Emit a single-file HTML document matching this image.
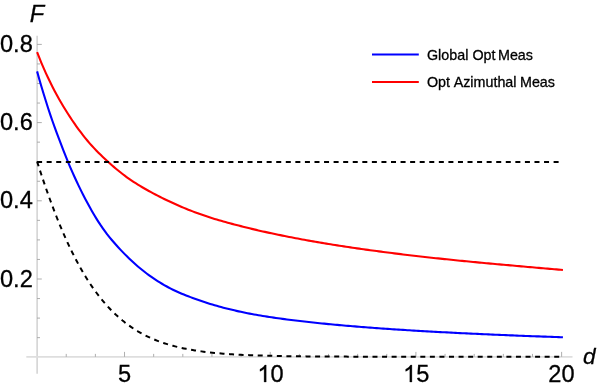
<!DOCTYPE html>
<html><head><meta charset="utf-8"><title>plot</title>
<style>
html,body{margin:0;padding:0;background:#fff;}
svg{display:block;will-change:transform;}
text{font-family:"Liberation Sans",sans-serif;fill:#000;stroke:#000;stroke-width:0.3px;}
</style></head><body>
<svg width="598" height="390" viewBox="0 0 598 390">
<rect width="598" height="390" fill="#fff"/>
<g stroke="#c6c6c6" stroke-width="1.2" fill="none">
<line x1="37.10" y1="35.8" x2="37.10" y2="373.8"/>
</g>
<g stroke="#dedede" stroke-width="1.7" fill="none">
<line x1="26.3" y1="356.80" x2="572.5" y2="356.80"/>
</g>
<g stroke="#999999" stroke-width="0.8" fill="none">
<line x1="37.10" y1="337.65" x2="40.00" y2="337.65"/><line x1="37.10" y1="318.10" x2="40.00" y2="318.10"/><line x1="37.10" y1="298.55" x2="40.00" y2="298.55"/><line x1="37.10" y1="279.00" x2="41.80" y2="279.00"/><line x1="37.10" y1="259.45" x2="40.00" y2="259.45"/><line x1="37.10" y1="239.90" x2="40.00" y2="239.90"/><line x1="37.10" y1="220.35" x2="40.00" y2="220.35"/><line x1="37.10" y1="200.80" x2="41.80" y2="200.80"/><line x1="37.10" y1="181.25" x2="40.00" y2="181.25"/><line x1="37.10" y1="161.70" x2="40.00" y2="161.70"/><line x1="37.10" y1="142.15" x2="40.00" y2="142.15"/><line x1="37.10" y1="122.60" x2="41.80" y2="122.60"/><line x1="37.10" y1="103.05" x2="40.00" y2="103.05"/><line x1="37.10" y1="83.50" x2="40.00" y2="83.50"/><line x1="37.10" y1="63.95" x2="40.00" y2="63.95"/><line x1="37.10" y1="44.40" x2="41.80" y2="44.40"/><line x1="66.24" y1="356.80" x2="66.24" y2="353.90"/><line x1="95.38" y1="356.80" x2="95.38" y2="353.90"/><line x1="124.52" y1="356.80" x2="124.52" y2="351.90"/><line x1="153.66" y1="356.80" x2="153.66" y2="353.90"/><line x1="182.80" y1="356.80" x2="182.80" y2="353.90"/><line x1="211.94" y1="356.80" x2="211.94" y2="353.90"/><line x1="241.08" y1="356.80" x2="241.08" y2="353.90"/><line x1="270.22" y1="356.80" x2="270.22" y2="351.90"/><line x1="299.36" y1="356.80" x2="299.36" y2="353.90"/><line x1="328.50" y1="356.80" x2="328.50" y2="353.90"/><line x1="357.64" y1="356.80" x2="357.64" y2="353.90"/><line x1="386.78" y1="356.80" x2="386.78" y2="353.90"/><line x1="415.92" y1="356.80" x2="415.92" y2="351.90"/><line x1="445.06" y1="356.80" x2="445.06" y2="353.90"/><line x1="474.20" y1="356.80" x2="474.20" y2="353.90"/><line x1="503.34" y1="356.80" x2="503.34" y2="353.90"/><line x1="532.48" y1="356.80" x2="532.48" y2="353.90"/><line x1="561.62" y1="356.80" x2="561.62" y2="351.90"/>
</g>
<path d="M37.10,71.39 L39.29,79.24 L41.48,86.72 L43.67,93.94 L45.86,101.03 L48.05,107.96 L50.25,114.61 L52.44,121.00 L54.63,127.17 L56.82,133.12 L59.01,138.89 L61.20,144.63 L63.39,150.31 L65.58,155.90 L67.77,161.33 L69.96,166.55 L72.16,171.59 L74.35,176.49 L76.54,181.26 L78.73,185.90 L80.92,190.40 L83.11,194.77 L85.30,199.01 L87.49,203.11 L89.68,207.09 L91.87,210.96 L94.07,214.72 L96.26,218.35 L98.45,221.84 L100.64,225.18 L102.83,228.35 L105.02,231.39 L107.21,234.32 L109.40,237.09 L111.59,239.74 L113.78,242.29 L115.97,244.79 L118.17,247.23 L120.36,249.59 L122.55,251.88 L124.74,254.13 L126.93,256.33 L129.12,258.47 L131.31,260.55 L133.50,262.57 L135.69,264.53 L137.88,266.43 L140.08,268.27 L142.27,270.05 L144.46,271.79 L146.65,273.46 L148.84,275.09 L151.03,276.66 L153.22,278.18 L155.41,279.65 L157.60,281.07 L159.79,282.45 L161.98,283.77 L164.18,285.05 L166.37,286.28 L168.56,287.47 L170.75,288.61 L172.94,289.71 L175.13,290.76 L177.32,291.76 L179.51,292.73 L181.70,293.66 L183.89,294.56 L186.09,295.44 L188.28,296.29 L190.47,297.12 L192.66,297.94 L194.85,298.75 L197.04,299.54 L199.23,300.31 L201.42,301.07 L203.61,301.80 L205.80,302.52 L208.00,303.22 L210.19,303.90 L212.38,304.57 L214.57,305.22 L216.76,305.85 L218.95,306.46 L221.14,307.06 L223.33,307.64 L225.52,308.20 L227.71,308.75 L229.90,309.30 L232.10,309.83 L234.29,310.35 L236.48,310.86 L238.67,311.36 L240.86,311.84 L243.05,312.32 L245.24,312.78 L247.43,313.22 L249.62,313.65 L251.81,314.06 L254.01,314.46 L256.20,314.84 L258.39,315.22 L260.58,315.58 L262.77,315.94 L264.96,316.29 L267.15,316.63 L269.34,316.96 L271.53,317.29 L273.72,317.61 L275.92,317.93 L278.11,318.24 L280.30,318.54 L282.49,318.84 L284.68,319.14 L286.87,319.42 L289.06,319.71 L291.25,319.98 L293.44,320.26 L295.63,320.53 L297.82,320.79 L300.02,321.05 L302.21,321.31 L304.40,321.56 L306.59,321.80 L308.78,322.05 L310.97,322.29 L313.16,322.52 L315.35,322.76 L317.54,322.98 L319.73,323.21 L321.93,323.43 L324.12,323.65 L326.31,323.87 L328.50,324.08 L330.69,324.29 L332.88,324.50 L335.07,324.70 L337.26,324.90 L339.45,325.10 L341.64,325.30 L343.83,325.49 L346.03,325.68 L348.22,325.87 L350.41,326.05 L352.60,326.24 L354.79,326.42 L356.98,326.60 L359.17,326.78 L361.36,326.95 L363.55,327.12 L365.74,327.29 L367.94,327.46 L370.13,327.63 L372.32,327.79 L374.51,327.95 L376.70,328.12 L378.89,328.27 L381.08,328.43 L383.27,328.59 L385.46,328.74 L387.65,328.89 L389.85,329.04 L392.04,329.19 L394.23,329.34 L396.42,329.48 L398.61,329.62 L400.80,329.77 L402.99,329.91 L405.18,330.04 L407.37,330.18 L409.56,330.32 L411.75,330.45 L413.95,330.58 L416.14,330.72 L418.33,330.85 L420.52,330.98 L422.71,331.10 L424.90,331.23 L427.09,331.35 L429.28,331.48 L431.47,331.60 L433.66,331.72 L435.86,331.84 L438.05,331.96 L440.24,332.08 L442.43,332.19 L444.62,332.31 L446.81,332.42 L449.00,332.54 L451.19,332.65 L453.38,332.76 L455.57,332.87 L457.77,332.98 L459.96,333.09 L462.15,333.20 L464.34,333.30 L466.53,333.41 L468.72,333.51 L470.91,333.62 L473.10,333.72 L475.29,333.82 L477.48,333.92 L479.67,334.02 L481.87,334.12 L484.06,334.22 L486.25,334.31 L488.44,334.41 L490.63,334.51 L492.82,334.60 L495.01,334.70 L497.20,334.79 L499.39,334.88 L501.58,334.97 L503.78,335.06 L505.97,335.15 L508.16,335.24 L510.35,335.33 L512.54,335.42 L514.73,335.51 L516.92,335.59 L519.11,335.68 L521.30,335.76 L523.49,335.85 L525.68,335.93 L527.88,336.02 L530.07,336.10 L532.26,336.18 L534.45,336.26 L536.64,336.34 L538.83,336.42 L541.02,336.50 L543.21,336.58 L545.40,336.66 L547.59,336.73 L549.79,336.81 L551.98,336.89 L554.17,336.96 L556.36,337.04 L558.55,337.11 L560.74,337.19 L562.93,337.26" fill="none" stroke="#0000ff" stroke-width="2.1" stroke-linejoin="round"/>
<path d="M37.10,52.11 L39.29,57.71 L41.48,63.05 L43.67,68.16 L45.86,73.09 L48.05,77.80 L50.25,82.33 L52.44,86.68 L54.63,90.90 L56.82,94.98 L59.01,98.94 L61.20,102.77 L63.39,106.47 L65.58,110.05 L67.77,113.54 L69.96,116.93 L72.16,120.24 L74.35,123.44 L76.54,126.55 L78.73,129.55 L80.92,132.47 L83.11,135.31 L85.30,138.07 L87.49,140.73 L89.68,143.31 L91.87,145.78 L94.07,148.16 L96.26,150.46 L98.45,152.70 L100.64,154.87 L102.83,156.99 L105.02,159.05 L107.21,161.06 L109.40,163.03 L111.59,164.96 L113.78,166.85 L115.97,168.71 L118.17,170.53 L120.36,172.30 L122.55,174.03 L124.74,175.70 L126.93,177.31 L129.12,178.87 L131.31,180.37 L133.50,181.82 L135.69,183.23 L137.88,184.60 L140.08,185.94 L142.27,187.26 L144.46,188.53 L146.65,189.78 L148.84,190.99 L151.03,192.17 L153.22,193.34 L155.41,194.49 L157.60,195.63 L159.79,196.75 L161.98,197.86 L164.18,198.94 L166.37,200.00 L168.56,201.04 L170.75,202.06 L172.94,203.06 L175.13,204.06 L177.32,205.04 L179.51,206.01 L181.70,206.96 L183.89,207.89 L186.09,208.79 L188.28,209.67 L190.47,210.53 L192.66,211.37 L194.85,212.19 L197.04,212.99 L199.23,213.78 L201.42,214.55 L203.61,215.31 L205.80,216.05 L208.00,216.78 L210.19,217.49 L212.38,218.20 L214.57,218.89 L216.76,219.56 L218.95,220.22 L221.14,220.86 L223.33,221.49 L225.52,222.10 L227.71,222.70 L229.90,223.29 L232.10,223.87 L234.29,224.45 L236.48,225.02 L238.67,225.58 L240.86,226.14 L243.05,226.69 L245.24,227.24 L247.43,227.79 L249.62,228.33 L251.81,228.86 L254.01,229.38 L256.20,229.89 L258.39,230.40 L260.58,230.90 L262.77,231.40 L264.96,231.89 L267.15,232.37 L269.34,232.85 L271.53,233.32 L273.72,233.78 L275.92,234.25 L278.11,234.70 L280.30,235.15 L282.49,235.60 L284.68,236.04 L286.87,236.47 L289.06,236.91 L291.25,237.33 L293.44,237.76 L295.63,238.18 L297.82,238.59 L300.02,239.00 L302.21,239.41 L304.40,239.82 L306.59,240.21 L308.78,240.61 L310.97,241.00 L313.16,241.39 L315.35,241.77 L317.54,242.15 L319.73,242.52 L321.93,242.89 L324.12,243.26 L326.31,243.62 L328.50,243.98 L330.69,244.33 L332.88,244.69 L335.07,245.04 L337.26,245.38 L339.45,245.72 L341.64,246.06 L343.83,246.40 L346.03,246.73 L348.22,247.06 L350.41,247.39 L352.60,247.71 L354.79,248.03 L356.98,248.35 L359.17,248.66 L361.36,248.97 L363.55,249.28 L365.74,249.59 L367.94,249.89 L370.13,250.19 L372.32,250.49 L374.51,250.79 L376.70,251.08 L378.89,251.37 L381.08,251.66 L383.27,251.94 L385.46,252.23 L387.65,252.51 L389.85,252.79 L392.04,253.07 L394.23,253.34 L396.42,253.61 L398.61,253.88 L400.80,254.15 L402.99,254.42 L405.18,254.68 L407.37,254.94 L409.56,255.20 L411.75,255.46 L413.95,255.71 L416.14,255.97 L418.33,256.22 L420.52,256.47 L422.71,256.72 L424.90,256.97 L427.09,257.21 L429.28,257.45 L431.47,257.69 L433.66,257.93 L435.86,258.17 L438.05,258.41 L440.24,258.64 L442.43,258.87 L444.62,259.10 L446.81,259.33 L449.00,259.56 L451.19,259.78 L453.38,260.01 L455.57,260.23 L457.77,260.45 L459.96,260.67 L462.15,260.89 L464.34,261.11 L466.53,261.32 L468.72,261.54 L470.91,261.75 L473.10,261.96 L475.29,262.17 L477.48,262.38 L479.67,262.58 L481.87,262.79 L484.06,262.99 L486.25,263.20 L488.44,263.40 L490.63,263.60 L492.82,263.80 L495.01,263.99 L497.20,264.19 L499.39,264.39 L501.58,264.58 L503.78,264.78 L505.97,264.97 L508.16,265.17 L510.35,265.36 L512.54,265.56 L514.73,265.75 L516.92,265.95 L519.11,266.14 L521.30,266.34 L523.49,266.54 L525.68,266.73 L527.88,266.93 L530.07,267.12 L532.26,267.32 L534.45,267.51 L536.64,267.70 L538.83,267.90 L541.02,268.09 L543.21,268.28 L545.40,268.47 L547.59,268.66 L549.79,268.85 L551.98,269.04 L554.17,269.22 L556.36,269.41 L558.55,269.59 L560.74,269.78 L562.93,269.96" fill="none" stroke="#ff0000" stroke-width="2.1" stroke-linejoin="round"/>
<path d="M37.10,161.90 L562.93,161.90" fill="none" stroke="#000" stroke-width="2.0" stroke-dasharray="5.0 4.565"/>
<path d="M37.10,161.50 L39.29,168.36 L41.48,175.06 L43.67,181.60 L45.86,187.99 L48.05,194.21 L50.25,200.27 L52.44,206.18 L54.63,211.92 L56.82,217.50 L59.01,222.92 L61.20,228.19 L63.39,233.30 L65.58,238.25 L67.77,243.05 L69.96,247.69 L72.16,252.19 L74.35,256.54 L76.54,260.74 L78.73,264.81 L80.92,268.73 L83.11,272.51 L85.30,276.16 L87.49,279.68 L89.68,283.07 L91.87,286.34 L94.07,289.48 L96.26,292.50 L98.45,295.41 L100.64,298.20 L102.83,300.88 L105.02,303.46 L107.21,305.93 L109.40,308.30 L111.59,310.57 L113.78,312.75 L115.97,314.84 L118.17,316.84 L120.36,318.75 L122.55,320.59 L124.74,322.34 L126.93,324.01 L129.12,325.61 L131.31,327.14 L133.50,328.60 L135.69,330.00 L137.88,331.33 L140.08,332.60 L142.27,333.81 L144.46,334.97 L146.65,336.07 L148.84,337.12 L151.03,338.12 L153.22,339.07 L155.41,339.98 L157.60,340.84 L159.79,341.66 L161.98,342.44 L164.18,343.18 L166.37,343.89 L168.56,344.56 L170.75,345.19 L172.94,345.80 L175.13,346.38 L177.32,346.92 L179.51,347.44 L181.70,347.93 L183.89,348.40 L186.09,348.84 L188.28,349.26 L190.47,349.66 L192.66,350.04 L194.85,350.40 L197.04,350.74 L199.23,351.06 L201.42,351.37 L203.61,351.66 L205.80,351.93 L208.00,352.19 L210.19,352.44 L212.38,352.67 L214.57,352.89 L216.76,353.10 L218.95,353.29 L221.14,353.48 L223.33,353.66 L225.52,353.83 L227.71,353.99 L229.90,354.14 L232.10,354.28 L234.29,354.41 L236.48,354.54 L238.67,354.66 L240.86,354.77 L243.05,354.88 L245.24,354.98 L247.43,355.08 L249.62,355.17 L251.81,355.26 L254.01,355.34 L256.20,355.41 L258.39,355.49 L260.58,355.56 L262.77,355.62 L264.96,355.68 L267.15,355.74 L269.34,355.80 L271.53,355.85 L273.72,355.90 L275.92,355.94 L278.11,355.99 L280.30,356.03 L282.49,356.07 L284.68,356.11 L286.87,356.14 L289.06,356.17 L291.25,356.21 L293.44,356.24 L295.63,356.26 L297.82,356.29 L300.02,356.32 L302.21,356.34 L304.40,356.36 L306.59,356.38 L308.78,356.40 L310.97,356.42 L313.16,356.44 L315.35,356.46 L317.54,356.48 L319.73,356.49 L321.93,356.51 L324.12,356.52 L326.31,356.53 L328.50,356.55 L330.69,356.56 L332.88,356.57 L335.07,356.58 L337.26,356.59 L339.45,356.60 L341.64,356.61 L343.83,356.62 L346.03,356.62 L348.22,356.63 L350.41,356.64 L352.60,356.65 L354.79,356.65 L356.98,356.66 L359.17,356.67 L361.36,356.67 L363.55,356.68 L365.74,356.68 L367.94,356.69 L370.13,356.69 L372.32,356.70 L374.51,356.70 L376.70,356.70 L378.89,356.71 L381.08,356.71 L383.27,356.71 L385.46,356.72 L387.65,356.72 L389.85,356.72 L392.04,356.73 L394.23,356.73 L396.42,356.73 L398.61,356.73 L400.80,356.74 L402.99,356.74 L405.18,356.74 L407.37,356.74 L409.56,356.74 L411.75,356.75 L413.95,356.75 L416.14,356.75 L418.33,356.75 L420.52,356.75 L422.71,356.75 L424.90,356.76 L427.09,356.76 L429.28,356.76 L431.47,356.76 L433.66,356.76 L435.86,356.76 L438.05,356.76 L440.24,356.76 L442.43,356.76 L444.62,356.77 L446.81,356.77 L449.00,356.77 L451.19,356.77 L453.38,356.77 L455.57,356.77 L457.77,356.77 L459.96,356.77 L462.15,356.77 L464.34,356.77 L466.53,356.77 L468.72,356.77 L470.91,356.77 L473.10,356.77 L475.29,356.77 L477.48,356.77 L479.67,356.77 L481.87,356.77 L484.06,356.78 L486.25,356.78 L488.44,356.78 L490.63,356.78 L492.82,356.78 L495.01,356.78 L497.20,356.78 L499.39,356.78 L501.58,356.78 L503.78,356.78 L505.97,356.78 L508.16,356.78 L510.35,356.78 L512.54,356.78 L514.73,356.78 L516.92,356.78 L519.11,356.78 L521.30,356.78 L523.49,356.78 L525.68,356.78 L527.88,356.78 L530.07,356.78 L532.26,356.78 L534.45,356.78 L536.64,356.78 L538.83,356.78 L541.02,356.78 L543.21,356.78 L545.40,356.78 L547.59,356.78 L549.79,356.78 L551.98,356.78 L554.17,356.78 L556.36,356.78 L558.55,356.78 L560.74,356.78 L562.93,356.78" fill="none" stroke="#000" stroke-width="2.0" stroke-dasharray="5.0 4.565" stroke-linejoin="round"/>
<g font-size="23.6px"><text x="32.8" y="286.55" text-anchor="end">0.2</text><text x="32.8" y="208.35" text-anchor="end">0.4</text><text x="32.8" y="130.15" text-anchor="end">0.6</text><text x="32.8" y="51.95" text-anchor="end">0.8</text><text x="124.52" y="382" text-anchor="middle">5</text><path transform="translate(257.40,382.00) scale(0.011523,-0.011523)" d="M763,0 H583 V1147 Q518,1085 412.5,1023 Q307,961 223,930 V1104 Q374,1175 487,1276 Q600,1377 647,1472 H763 Z" fill="#000" stroke="#000" stroke-width="26.0"/><text x="270.52" y="382">0</text><path transform="translate(403.10,382.00) scale(0.011523,-0.011523)" d="M763,0 H583 V1147 Q518,1085 412.5,1023 Q307,961 223,930 V1104 Q374,1175 487,1276 Q600,1377 647,1472 H763 Z" fill="#000" stroke="#000" stroke-width="26.0"/><text x="416.22" y="382">5</text><text x="561.42" y="382" text-anchor="middle">20</text>
<text x="29.8" y="21.6" font-style="italic">F</text>
<text x="583.0" y="363.5" font-style="italic" font-size="22.6px">d</text>
</g>
<line x1="372" y1="54.5" x2="418.8" y2="54.5" stroke="#0000ff" stroke-width="2.0"/>
<line x1="372" y1="82" x2="418.8" y2="82" stroke="#ff0000" stroke-width="2.0"/>
<g font-size="14.3px" style="stroke-width:0px">
<text x="427.0" y="59.8">Global</text><text x="472.4" y="59.8">Opt</text><text x="498.0" y="59.8">Meas</text>
<text x="427.0" y="87.2">Opt</text><text x="453.7" y="87.2">Azimuthal</text><text x="520.0" y="87.2">Meas</text>
</g>
</svg>
</body></html>
